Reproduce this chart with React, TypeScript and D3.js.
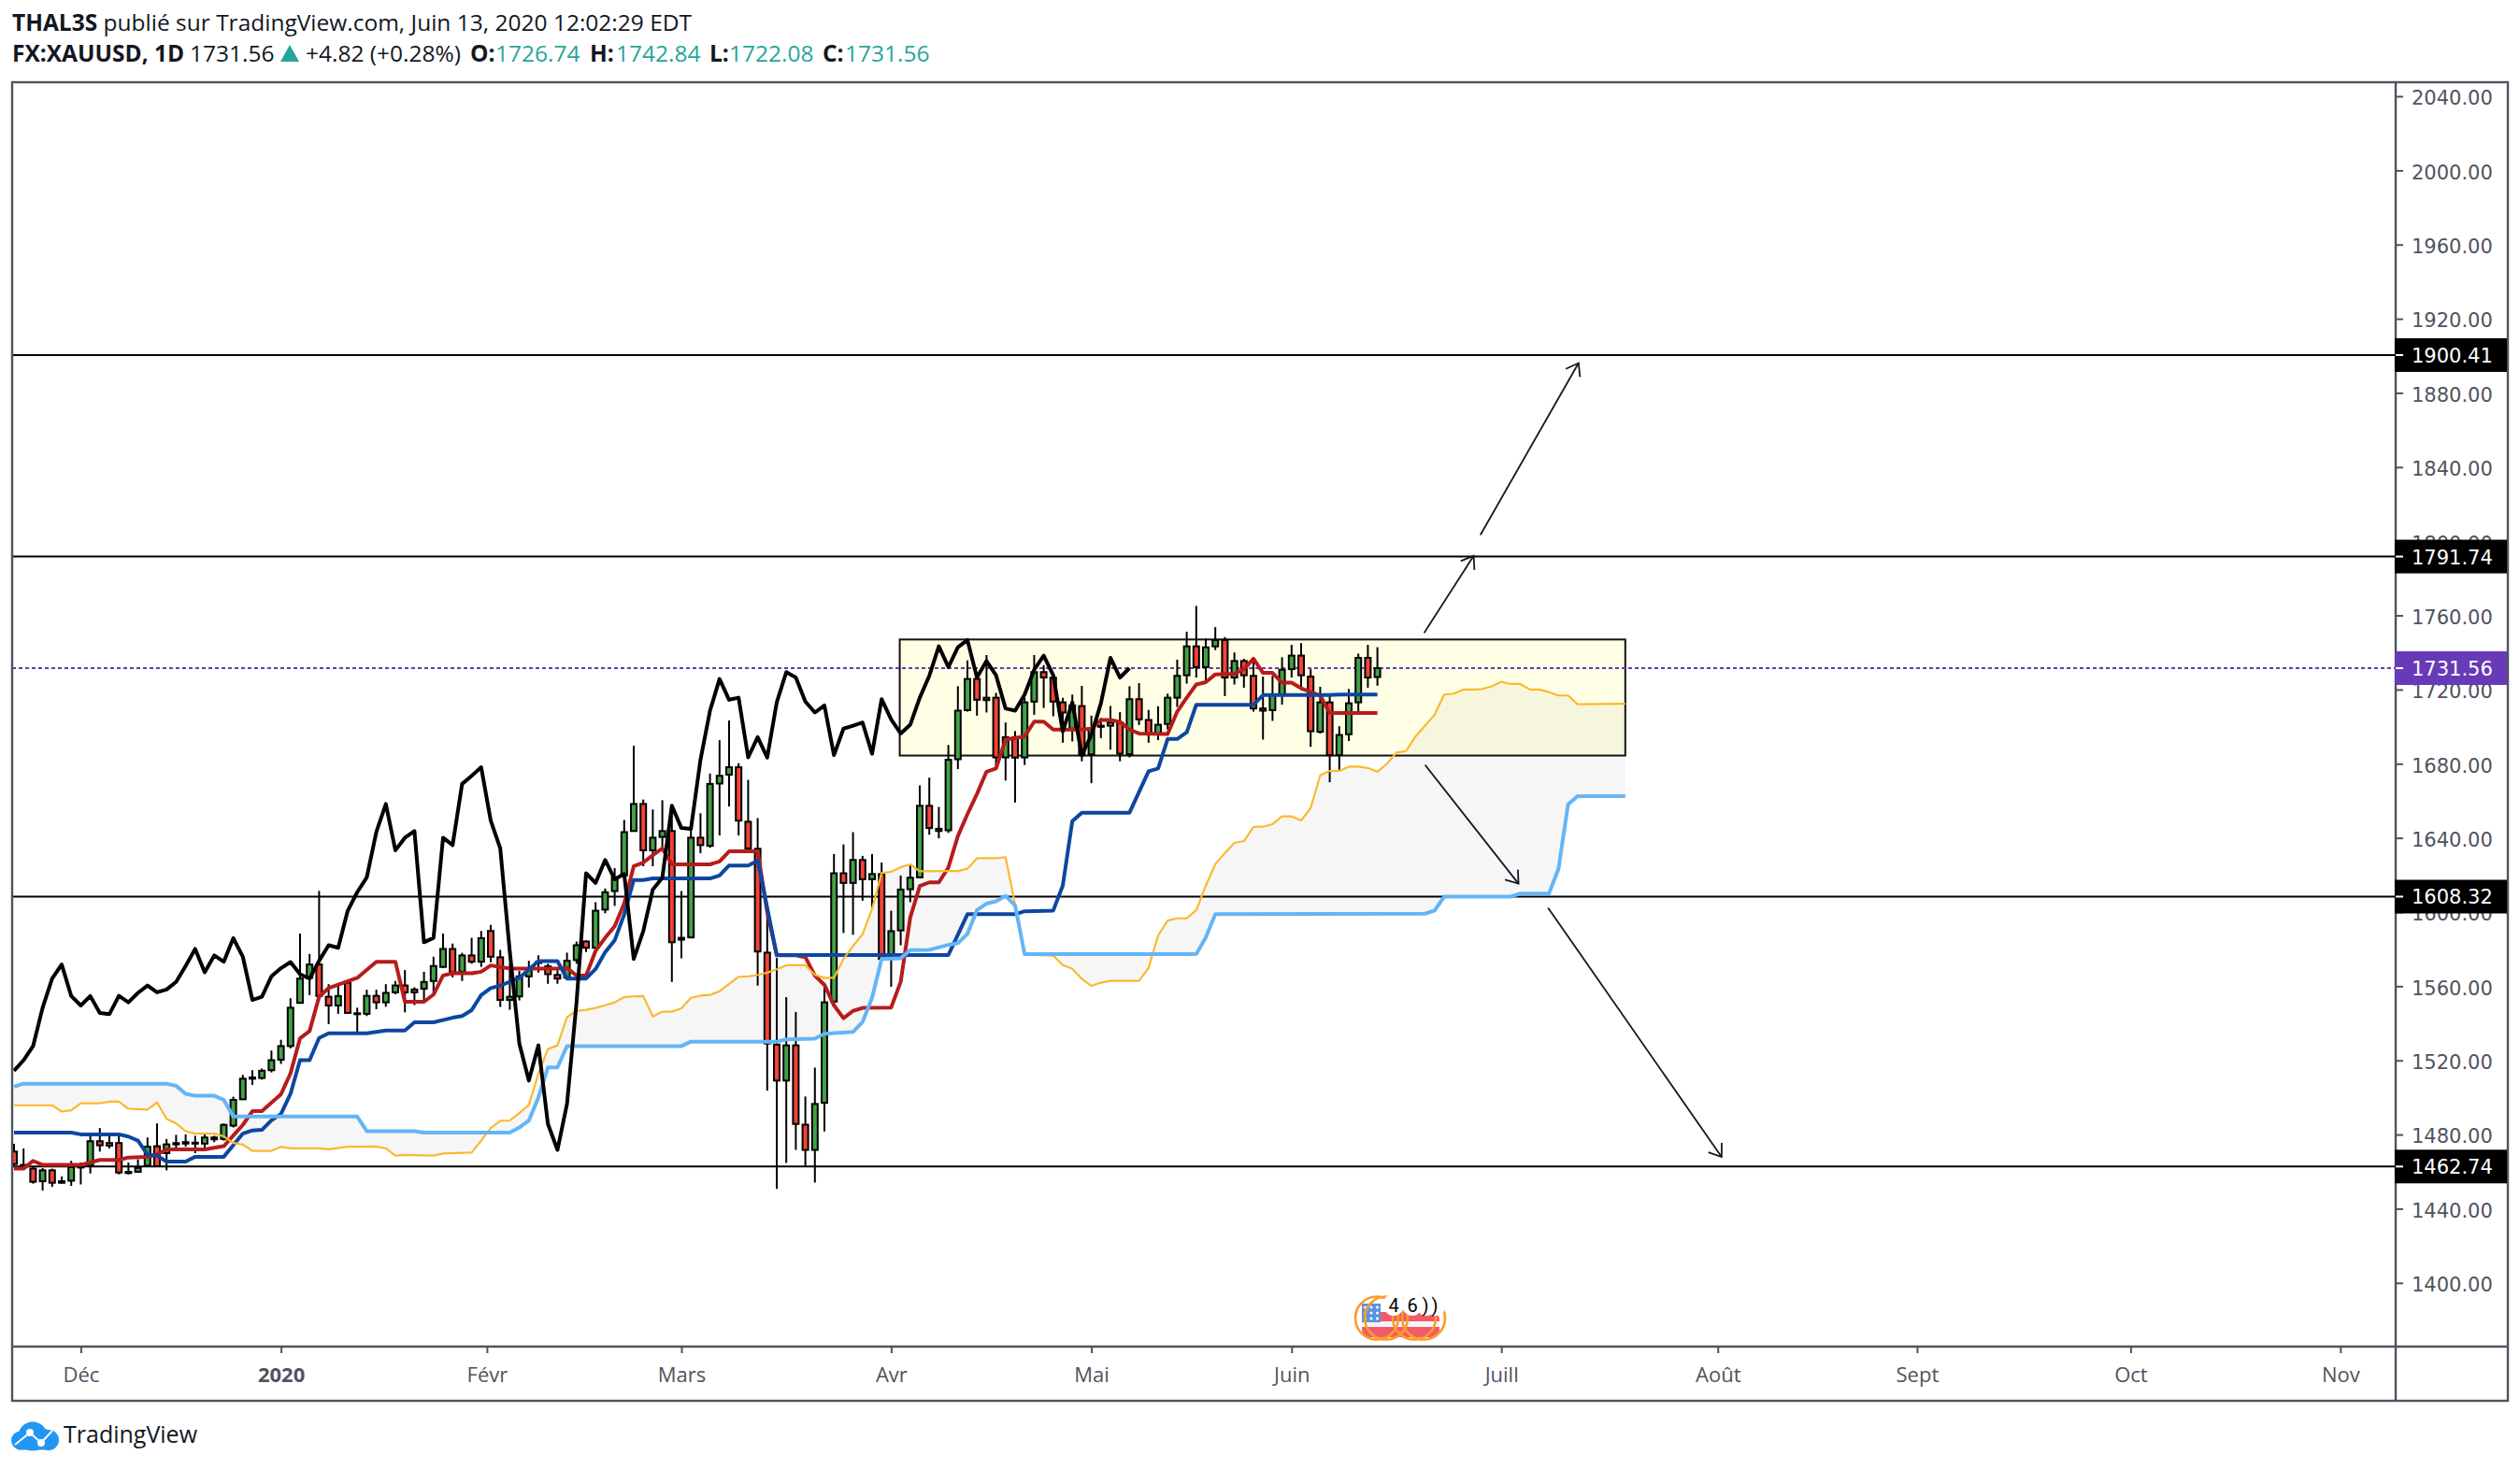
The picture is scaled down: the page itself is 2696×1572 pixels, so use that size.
import * as d3 from "d3"
import { useEffect, useRef } from "react"

const WIDTH = 2696
const HEIGHT = 1572

// daily XAUUSD candles, one entry per bar
const opens = [
  1470.8, 1462.9, 1461.6, 1454.8, 1460.7, 1454.0, 1455.1, 1462.2, 1463.2, 1476.4,
  1475.4, 1475.4, 1459.9, 1459.9, 1463.2, 1473.7, 1470.0, 1474.7, 1475.1, 1475.1,
  1475.1, 1477.4, 1477.6, 1484.8, 1499.0, 1510.1, 1510.5, 1514.7, 1520.3, 1527.7,
  1551.0, 1564.5, 1571.7, 1554.3, 1549.6, 1561.9, 1545.4, 1545.1, 1554.8, 1551.3,
  1556.7, 1560.4, 1556.7, 1558.6, 1562.8, 1570.4, 1580.1, 1567.8, 1576.6, 1573.2,
  1589.8, 1575.6, 1552.6, 1554.5, 1565.3, 1572.5, 1570.7, 1566.1, 1564.7, 1574.1,
  1584.1, 1580.7, 1601.3, 1611.3, 1619.7, 1643.7, 1658.3, 1633.3, 1640.5, 1643.7,
  1585.1, 1586.3, 1640.1, 1635.7, 1669.3, 1674.1, 1678.1, 1648.7, 1634.1, 1578.1,
  1528.5, 1509.1, 1528.1, 1485.3, 1471.7, 1497.1, 1551.7, 1620.9, 1615.7, 1628.1,
  1617.7, 1620.5, 1574.7, 1590.1, 1612.3, 1618.7, 1657.3, 1643.7, 1644.1, 1682.4,
  1708.9, 1725.7, 1714.3, 1715.6, 1683.4, 1694.3, 1683.4, 1713.5, 1729.4, 1726.4,
  1713.1, 1698.9, 1711.1, 1685.0, 1699.9, 1700.5, 1702.2, 1685.1, 1714.8, 1703.6,
  1696.3, 1701.4, 1715.6, 1727.7, 1743.3, 1732.1, 1743.3, 1746.7, 1726.5, 1735.4,
  1727.4, 1709.8, 1708.9, 1717.3, 1731.0, 1738.3, 1727.0, 1697.2, 1713.1, 1684.6,
  1695.9, 1713.1, 1737.1, 1726.74,
]
const highs = [
  1475.0, 1472.5, 1462.4, 1461.9, 1461.6, 1457.4, 1465.8, 1464.9, 1481.0, 1483.5,
  1479.3, 1479.3, 1464.9, 1466.6, 1478.4, 1486.0, 1477.6, 1479.8, 1480.1, 1479.3,
  1481.0, 1479.3, 1486.0, 1500.4, 1512.2, 1514.7, 1515.6, 1525.3, 1531.1, 1553.5,
  1588.4, 1577.4, 1611.4, 1561.1, 1560.3, 1562.8, 1548.4, 1558.1, 1558.1, 1561.1,
  1562.8, 1568.7, 1559.4, 1567.8, 1575.9, 1588.4, 1583.0, 1578.0, 1586.1, 1589.8,
  1593.1, 1579.6, 1572.0, 1568.2, 1573.7, 1576.7, 1572.1, 1568.7, 1578.1, 1584.1,
  1584.7, 1605.3, 1612.7, 1623.7, 1649.7, 1689.7, 1660.7, 1655.3, 1660.3, 1657.7,
  1611.3, 1648.7, 1653.3, 1674.7, 1692.7, 1703.3, 1680.3, 1671.3, 1650.7, 1598.1,
  1575.3, 1554.1, 1546.1, 1500.5, 1516.1, 1560.7, 1631.3, 1636.5, 1643.1, 1630.3,
  1631.3, 1626.7, 1600.7, 1619.7, 1625.1, 1668.3, 1672.5, 1656.7, 1690.1, 1721.8,
  1735.7, 1729.0, 1738.6, 1718.2, 1702.2, 1697.7, 1715.6, 1738.6, 1733.2, 1729.0,
  1715.6, 1717.3, 1722.0, 1705.9, 1704.7, 1711.1, 1707.8, 1721.8, 1723.5, 1709.0,
  1711.0, 1717.8, 1736.1, 1751.2, 1765.1, 1747.5, 1753.7, 1748.3, 1740.0, 1736.6,
  1736.6, 1727.0, 1727.4, 1737.4, 1744.1, 1745.0, 1731.0, 1721.5, 1716.5, 1700.2,
  1720.3, 1739.4, 1744.1, 1742.84,
]
const lows = [
  1463.2, 1462.9, 1453.5, 1449.8, 1451.8, 1453.5, 1452.3, 1453.1, 1459.0, 1470.8,
  1472.5, 1458.5, 1458.5, 1459.5, 1462.4, 1462.9, 1460.7, 1472.5, 1473.4, 1470.0,
  1473.0, 1475.9, 1476.7, 1483.8, 1498.7, 1506.8, 1509.6, 1513.5, 1518.1, 1526.5,
  1551.0, 1555.2, 1554.3, 1539.5, 1545.1, 1545.4, 1535.4, 1543.9, 1547.6, 1548.9,
  1555.7, 1545.9, 1549.8, 1551.8, 1556.0, 1569.9, 1564.8, 1562.8, 1572.1, 1570.4,
  1572.9, 1548.8, 1547.3, 1552.3, 1559.3, 1567.3, 1561.3, 1561.3, 1564.1, 1572.1,
  1578.5, 1580.7, 1599.3, 1603.3, 1618.7, 1643.7, 1624.7, 1624.7, 1634.7, 1562.3,
  1575.1, 1586.3, 1631.7, 1634.7, 1641.3, 1656.9, 1641.3, 1633.7, 1560.3, 1503.7,
  1450.7, 1464.7, 1471.7, 1462.7, 1454.1, 1481.7, 1550.7, 1588.7, 1587.7, 1606.1,
  1602.1, 1574.7, 1559.7, 1582.1, 1605.3, 1618.7, 1641.7, 1639.7, 1642.7, 1677.1,
  1708.1, 1705.9, 1707.6, 1677.9, 1670.9, 1659.1, 1679.3, 1706.4, 1710.1, 1705.6,
  1691.3, 1692.0, 1681.3, 1669.5, 1693.8, 1687.6, 1681.3, 1683.4, 1700.9, 1691.3,
  1692.7, 1698.5, 1710.6, 1723.2, 1726.5, 1724.9, 1741.3, 1716.5, 1722.7, 1721.0,
  1708.1, 1693.0, 1703.1, 1711.9, 1726.5, 1721.0, 1689.1, 1696.3, 1670.0, 1676.7,
  1692.2, 1708.1, 1721.0, 1722.08,
]
const closes = [
  1464.1, 1463.6, 1454.5, 1460.7, 1454.0, 1454.8, 1462.4, 1462.7, 1476.4, 1474.2,
  1474.0, 1459.5, 1459.2, 1462.0, 1473.4, 1462.9, 1474.7, 1475.4, 1475.9, 1475.6,
  1478.4, 1478.4, 1485.2, 1498.7, 1510.1, 1510.8, 1514.4, 1520.1, 1527.7, 1548.4,
  1564.1, 1571.7, 1554.7, 1549.6, 1554.7, 1545.6, 1544.9, 1554.8, 1551.3, 1556.4,
  1560.4, 1556.7, 1558.2, 1562.3, 1570.9, 1580.1, 1567.5, 1576.6, 1573.2, 1585.9,
  1575.9, 1552.6, 1554.3, 1565.3, 1569.7, 1573.0, 1566.5, 1564.1, 1573.7, 1582.1,
  1580.7, 1600.7, 1610.7, 1618.7, 1643.1, 1658.3, 1633.3, 1640.1, 1643.7, 1583.7,
  1586.1, 1640.1, 1636.1, 1669.1, 1673.5, 1678.1, 1649.3, 1634.3, 1578.7, 1529.1,
  1509.1, 1528.1, 1485.7, 1471.7, 1496.5, 1551.3, 1620.9, 1615.7, 1628.1, 1617.7,
  1620.5, 1574.7, 1589.7, 1612.1, 1618.5, 1657.3, 1645.3, 1644.9, 1682.1, 1708.6,
  1725.7, 1714.5, 1715.6, 1683.4, 1694.3, 1683.3, 1713.1, 1729.4, 1726.5, 1713.5,
  1707.6, 1711.4, 1684.6, 1698.9, 1700.5, 1702.2, 1685.4, 1714.8, 1703.9, 1696.3,
  1701.0, 1715.6, 1727.4, 1743.3, 1732.1, 1742.8, 1746.7, 1726.5, 1735.4, 1727.7,
  1709.8, 1708.6, 1717.3, 1730.7, 1738.3, 1727.7, 1697.5, 1713.1, 1684.6, 1695.5,
  1712.6, 1737.1, 1726.5, 1731.56,
]

// Ichimoku lines as [bar, price] vertices
const tenkan: [number, number][] = [
  [0, 1461.6], [1, 1461.6], [2, 1465.8], [3, 1463.6], [7, 1463.6], [9, 1466.3], [11, 1466.3], [12, 1467.6],
  [14, 1468], [15, 1469.2], [16, 1472], [20, 1472], [22, 1473.7], [24, 1485.2], [25, 1492.6], [26, 1492.6],
  [28, 1501.7], [29, 1513], [30, 1531.9], [31, 1535.8], [32, 1554.3], [33, 1559], [36, 1564.5], [38, 1573.2],
  [40, 1573.2], [41, 1551.6], [43, 1551.6], [44, 1555.5], [45, 1565.8], [46, 1567], [48, 1567], [49, 1567.8],
  [50, 1571.2], [52, 1569.5], [57, 1569.5], [58, 1569.9], [59, 1565.7], [60, 1565.7], [61, 1579.1], [62, 1586.1],
  [63, 1592.3], [64, 1604.7], [65, 1624.7], [66, 1626.7], [67, 1630.7], [68, 1634.3], [69, 1625.7], [73, 1625.7],
  [74, 1627.3], [75, 1632.7], [78, 1632.7], [79, 1600], [80, 1576.7], [82, 1576.7], [83, 1575.7], [84, 1565.7],
  [85, 1560.7], [86, 1549.7], [87, 1542.7], [88, 1546.7], [89, 1548.3], [92, 1548.5], [93, 1562.4], [94, 1597],
  [95, 1614], [96, 1616], [97, 1616], [98, 1624], [99, 1641], [100, 1652.8], [101, 1663.7], [102, 1675.7],
  [103, 1677.4], [104, 1693], [106, 1694.7], [107, 1702.7], [108, 1702.7], [109, 1698.4], [112, 1698.4], [113, 1698.9],
  [114, 1703.6], [115, 1703.6], [116, 1702.6], [117, 1698.4], [118, 1696.3], [121, 1696], [122, 1708.1], [123, 1715.6],
  [124, 1722.7], [125, 1724], [126, 1728.2], [128, 1728.5], [129, 1731], [130, 1736.6], [131, 1729], [132, 1729],
  [133, 1723.7], [134, 1723.7], [135, 1720.7], [137, 1716.8], [138, 1707.3], [143, 1707.3],
]
const kijun: [number, number][] = [
  [0, 1481], [6, 1481], [7, 1480.1], [11, 1480.1], [12, 1478.9], [13, 1476.7], [14, 1469.2], [15, 1468.6],
  [16, 1465.4], [18, 1465.4], [19, 1468], [22, 1468], [24, 1480.5], [25, 1482.2], [26, 1482.5], [27, 1487.7],
  [28, 1491.1], [29, 1502], [30, 1520.1], [31, 1520.1], [32, 1532.1], [33, 1534.6], [37, 1534.6], [39, 1536.1],
  [41, 1536.1], [42, 1540.5], [44, 1540.5], [46, 1543], [47, 1543.9], [48, 1547.1], [49, 1555.2], [50, 1559],
  [51, 1560.3], [53, 1564.5], [55, 1573.5], [57, 1573.5], [58, 1564.1], [60, 1564.1], [61, 1569.3], [62, 1578.3],
  [63, 1584.7], [64, 1598.7], [65, 1617.3], [66, 1617.3], [67, 1618.1], [73, 1618.1], [74, 1619.7], [75, 1625.1],
  [77, 1625.1], [78, 1627.7], [80, 1576.8], [98, 1576.8], [100, 1598.8], [105, 1598.8], [106, 1600.4], [109, 1600.8],
  [110, 1614.2], [111, 1649], [112, 1653.6], [117, 1653.6], [119, 1675.9], [120, 1677.4], [121, 1693.3], [122, 1693.3],
  [123, 1696.9], [124, 1711.8], [130, 1711.8], [131, 1717], [138, 1717], [139, 1717.3], [143, 1717.3],
]
// one value per bar from the first bar on
const chikou = [
  1514.4, 1520.1, 1527.7, 1548.4, 1564.1, 1571.7, 1554.7, 1549.6, 1554.7, 1545.6,
  1544.9, 1554.8, 1551.3, 1556.4, 1560.4, 1556.7, 1558.2, 1562.3, 1570.9, 1580.1,
  1567.5, 1576.6, 1573.2, 1585.9, 1575.9, 1552.6, 1554.3, 1565.3, 1569.7, 1573.0,
  1566.5, 1564.1, 1573.7, 1582.1, 1580.7, 1600.7, 1610.7, 1618.7, 1643.1, 1658.3,
  1633.3, 1640.1, 1643.7, 1583.7, 1586.1, 1640.1, 1636.1, 1669.1, 1673.5, 1678.1,
  1649.3, 1634.3, 1578.7, 1529.1, 1509.1, 1528.1, 1485.7, 1471.7, 1496.5, 1551.3,
  1620.9, 1615.7, 1628.1, 1617.7, 1620.5, 1574.7, 1589.7, 1612.1, 1618.5, 1657.3,
  1645.3, 1644.9, 1682.1, 1708.6, 1725.7, 1714.5, 1715.6, 1683.4, 1694.3, 1683.3,
  1713.1, 1729.4, 1726.5, 1713.5, 1707.6, 1711.4, 1684.6, 1698.9, 1700.5, 1702.2,
  1685.4, 1714.8, 1703.9, 1696.3, 1701.0, 1715.6, 1727.4, 1743.3, 1732.1, 1742.8,
  1746.7, 1726.5, 1735.4, 1727.7, 1709.8, 1708.6, 1717.3, 1730.7, 1738.3, 1727.7,
  1697.5, 1713.1, 1684.6, 1695.5, 1712.6, 1737.1, 1726.5, 1731.56,
]
const senkouA: [number, number][] = [
  [0, 1495.8], [4, 1495.8], [5, 1492.4], [6, 1493.1], [7, 1496.9], [9, 1496.9], [10, 1497.7], [11, 1497.7],
  [12, 1493.9], [14, 1493.5], [15, 1497.3], [16, 1488.5], [17, 1486], [18, 1481.8], [19, 1480.5], [21, 1480.5],
  [22, 1479], [23, 1475.4], [24, 1474.6], [25, 1471.2], [27, 1471.2], [28, 1473.4], [29, 1472.5], [32, 1472.5],
  [33, 1472], [35, 1473.4], [38, 1473.5], [39, 1472.5], [40, 1468.6], [41, 1469], [44, 1468.6], [45, 1469.8],
  [48, 1470.3], [49, 1476.7], [50, 1483.5], [51, 1487.4], [52, 1487.6], [53, 1491.6], [54, 1496], [55, 1512.7],
  [56, 1526.1], [57, 1528.1], [58, 1543.3], [59, 1546.7], [60, 1547.3], [61, 1548.3], [62, 1549.7], [63, 1551.3],
  [64, 1554.1], [65, 1554.5], [66, 1554.7], [67, 1543.7], [68, 1546.3], [69, 1546.3], [70, 1548.1], [71, 1553.7],
  [72, 1554.9], [73, 1555.3], [74, 1557.3], [75, 1561.1], [76, 1565.1], [77, 1565.3], [78, 1566.1], [79, 1567.3],
  [80, 1569.1], [81, 1571.3], [83, 1571.3], [84, 1566.1], [85, 1564.5], [86, 1564.5], [87, 1574.7], [88, 1581.7],
  [89, 1588.1], [90, 1601.7], [91, 1621], [92, 1621.7], [93, 1624.2], [94, 1625.8], [95, 1622], [99, 1622.1],
  [100, 1623.4], [101, 1629], [103, 1629], [104, 1629.6], [105, 1604.1], [106, 1577], [109, 1576.5], [110, 1571.4],
  [111, 1569.4], [112, 1563.9], [113, 1560.2], [114, 1561.9], [115, 1562.9], [118, 1562.9], [119, 1569.8], [120, 1587.4],
  [121, 1595.4], [122, 1596.6], [123, 1596.6], [124, 1601.1], [125, 1614.2], [126, 1625.9], [127, 1631.8], [128, 1637.3],
  [129, 1638.2], [130, 1645.9], [131, 1646], [132, 1647.4], [133, 1651.6], [134, 1651.6], [135, 1649.4], [136, 1656.1],
  [137, 1673.7], [138, 1676.1], [139, 1676.1], [140, 1678.4], [141, 1678.4], [142, 1677.7], [143, 1675.7], [144, 1680],
  [145, 1686], [146, 1686.8], [147, 1694.7], [148, 1700.5], [149, 1706.4], [150, 1717.3], [151, 1717.8], [152, 1720],
  [153, 1720], [154, 1720.3], [155, 1721.7], [156, 1724.2], [157, 1723], [158, 1723], [159, 1720], [160, 1720],
  [161, 1718.6], [162, 1716.8], [163, 1716.8], [164, 1712.1], [169, 1712.3],
]
const senkouB: [number, number][] = [
  [0, 1505.8], [1, 1507.4], [16, 1507.4], [17, 1506.3], [18, 1502], [19, 1500.9], [21, 1500.9], [22, 1498.7],
  [23, 1489.7], [36, 1489.7], [37, 1481.8], [42, 1481.8], [43, 1481], [52, 1481], [53, 1483.8], [54, 1487.5],
  [55, 1500], [56, 1516.2], [57, 1516.2], [58, 1527.7], [70, 1527.7], [71, 1530.1], [80, 1530.1], [81, 1531.3],
  [84, 1531.7], [85, 1534.3], [88, 1535.3], [89, 1540.7], [90, 1553.7], [91, 1574.7], [93, 1575], [94, 1579.5],
  [96, 1579.6], [98, 1582.3], [99, 1583.2], [100, 1588.2], [101, 1601.1], [102, 1604.5], [103, 1605.8], [104, 1608.7],
  [105, 1603.6], [106, 1577.3], [124, 1577.3], [125, 1586.2], [126, 1598.9], [148, 1599.1], [149, 1600.8], [150, 1608.3],
  [157, 1608.3], [158, 1610], [161, 1610], [162, 1623.4], [163, 1658.1], [164, 1662.5], [169, 1662.5],
]

// drawings on the chart
const levels = [1900.41, 1791.74, 1608.32, 1462.74]
const lastPrice = 1731.56
const boxBars = [92.9, 169]
const boxPrices = [1747, 1684.4]
const arrows: [number, number, number, number][] = [
  [153.8, 1803.4, 164.1, 1896.1],
  [147.9, 1750.5, 153.1, 1792.1],
  [148, 1679.4, 157.8, 1615.3],
  [160.9, 1602.3, 179.1, 1467.9],
]

// axes
const priceTicks = d3.range(1400, 2041, 40)
const timeTickBars = [7, 28, 49.6, 70, 92, 113, 134, 156, 178.7, 199.6, 222, 244]
const timeTickLabels = ["Déc", "2020", "Févr", "Mars", "Avr", "Mai", "Juin", "Juill", "Août", "Sept", "Oct", "Nov"]

const PLOT = { left: 13, right: 2563, top: 88, bottom: 1441, axisRight: 2683, axisBottom: 1499 }
const AXIS_COLOR = "#50535e"
const UP = "#43a047"
const DOWN = "#f44336"
const TEAL = "#26a69a"
const UI_FONT = "'Open Sans', sans-serif"
const SCALE_FONT = "'DejaVu Sans', sans-serif"

export default function App() {
  const svgRef = useRef<SVGSVGElement>(null)

  useEffect(() => {
    if (!svgRef.current) return
    const svg = d3.select(svgRef.current)
    svg.selectAll("*").remove()

    const x = d3.scaleLinear().domain([0, 244]).range([15, 2503.8])
    const y = d3.scaleLinear().domain([1400, 2040]).range([1372.8, 103])

    svg
      .append("defs")
      .append("clipPath")
      .attr("id", "plot-clip")
      .append("rect")
      .attr("x", PLOT.left)
      .attr("y", PLOT.top)
      .attr("width", PLOT.right - PLOT.left)
      .attr("height", PLOT.bottom - PLOT.top)

    svg.append("rect").attr("width", WIDTH).attr("height", HEIGHT).attr("fill", "#fff")

    const plot = svg.append("g").attr("clip-path", "url(#plot-clip)")

    // range box
    plot
      .append("rect")
      .attr("x", x(boxBars[0]))
      .attr("y", y(boxPrices[0]))
      .attr("width", x(boxBars[1]) - x(boxBars[0]))
      .attr("height", y(boxPrices[1]) - y(boxPrices[0]))
      .attr("fill", "#ffffe6")

    // cloud
    const vertex = d3
      .line<[number, number]>()
      .x((d) => x(d[0]))
      .y((d) => y(d[1]))
    plot
      .append("path")
      .attr("d", vertex([...senkouA, ...[...senkouB].reverse()]) + "Z")
      .attr("fill", "rgba(0,0,0,0.035)")

    plot
      .append("rect")
      .attr("x", x(boxBars[0]))
      .attr("y", y(boxPrices[0]))
      .attr("width", x(boxBars[1]) - x(boxBars[0]))
      .attr("height", y(boxPrices[1]) - y(boxPrices[0]))
      .attr("fill", "none")
      .attr("stroke", "#111")
      .attr("stroke-width", 2)

    // horizontal levels
    plot
      .selectAll(".level")
      .data(levels)
      .enter()
      .append("line")
      .attr("x1", PLOT.left)
      .attr("x2", PLOT.right)
      .attr("y1", (d) => y(d))
      .attr("y2", (d) => y(d))
      .attr("stroke", "#000")
      .attr("stroke-width", 2)

    plot
      .append("line")
      .attr("x1", PLOT.left)
      .attr("x2", PLOT.right)
      .attr("y1", y(lastPrice))
      .attr("y2", y(lastPrice))
      .attr("stroke", "#673ab7")
      .attr("stroke-width", 2)
      .attr("stroke-dasharray", "4 3")

    // candles
    const bars = d3.range(closes.length)
    const candles = plot.selectAll(".candle").data(bars).enter().append("g")
    candles
      .append("line")
      .attr("x1", (i) => x(i))
      .attr("x2", (i) => x(i))
      .attr("y1", (i) => y(highs[i]))
      .attr("y2", (i) => y(lows[i]))
      .attr("stroke", "#000")
      .attr("stroke-width", 2)
    candles
      .append("rect")
      .attr("x", (i) => x(i) - 3)
      .attr("width", 6)
      .attr("y", (i) => y(Math.max(opens[i], closes[i])))
      .attr("height", (i) => Math.max(1, Math.abs(y(opens[i]) - y(closes[i]))))
      .attr("fill", (i) => (closes[i] >= opens[i] ? UP : DOWN))
      .attr("stroke", "#000")
      .attr("stroke-width", 2)

    const drawLine = (pts: [number, number][], color: string, w: number) =>
      plot
        .append("path")
        .attr("d", vertex(pts))
        .attr("fill", "none")
        .attr("stroke", color)
        .attr("stroke-width", w)
        .attr("stroke-linejoin", "round")

    drawLine(tenkan, "#b71c1c", 4)
    drawLine(kijun, "#0d47a1", 4)
    drawLine(senkouA, "#fbb92f", 2.2)
    drawLine(senkouB, "#64b5f6", 4)
    drawLine(chikou.map((v, i) => [i, v] as [number, number]), "#000", 4)

    // arrows
    const arrowG = plot.append("g").attr("stroke", "#131722").attr("stroke-width", 1.8).attr("fill", "none")
    arrows.forEach(([b0, p0, b1, p1]) => {
      const xa = x(b0)
      const ya = y(p0)
      const xb = x(b1)
      const yb = y(p1)
      const angle = Math.atan2(yb - ya, xb - xa)
      const arm = (a: number) => [xb - 15 * Math.cos(angle + a), yb - 15 * Math.sin(angle + a)]
      const [lx, ly] = arm(0.62)
      const [rx, ry] = arm(-0.62)
      arrowG.append("path").attr("d", `M${xa},${ya}L${xb},${yb}`)
      arrowG.append("path").attr("d", `M${lx},${ly}L${xb},${yb}L${rx},${ry}`)
    })

    // events badge near the time axis
    const badge = svg.append("g")
    badge.append("rect").attr("x", 1457).attr("y", 1404).attr("width", 83).attr("height", 27).attr("rx", 8).attr("fill", "#f4596a")
    badge.append("rect").attr("x", 1457).attr("y", 1414).attr("width", 83).attr("height", 6).attr("fill", "#f4f4f6")
    badge.append("rect").attr("x", 1457).attr("y", 1395).attr("width", 20).attr("height", 20).attr("fill", "#5a93e0")
    d3.range(9).forEach((k) =>
      badge
        .append("circle")
        .attr("cx", 1460.5 + (k % 3) * 6.5)
        .attr("cy", 1399 + Math.floor(k / 3) * 6)
        .attr("r", 1.5)
        .attr("fill", "#fff"),
    )
    ;[1473, 1483, 1513, 1523].forEach((cx) =>
      badge
        .append("circle")
        .attr("cx", cx)
        .attr("cy", 1410.5)
        .attr("r", 23)
        .attr("fill", "none")
        .attr("stroke", "#f99d2a")
        .attr("stroke-width", 2.6),
    )
    ;[1491, 1511, 1526, 1536].forEach((cx) =>
      badge.append("ellipse").attr("cx", cx).attr("cy", 1396).attr("rx", 11).attr("ry", 12).attr("fill", "#fff"),
    )
    ;[["4", 1491], ["6", 1511], [")", 1525], [")", 1535]].forEach(([t, cx]) =>
      badge
        .append("text")
        .attr("x", cx as number)
        .attr("y", 1404)
        .attr("text-anchor", "middle")
        .attr("font-family", "Roboto, sans-serif")
        .attr("font-size", 20)
        .attr("fill", "#000")
        .text(t as string),
    )

    // axes frame
    const frame = svg.append("g").attr("stroke", AXIS_COLOR).attr("stroke-width", 2.4).attr("fill", "none")
    frame
      .append("rect")
      .attr("x", PLOT.left)
      .attr("y", PLOT.top)
      .attr("width", PLOT.axisRight - PLOT.left)
      .attr("height", PLOT.axisBottom - PLOT.top)
    frame.append("line").attr("x1", PLOT.left).attr("x2", PLOT.axisRight).attr("y1", PLOT.bottom).attr("y2", PLOT.bottom)
    frame.append("line").attr("x1", PLOT.right).attr("x2", PLOT.right).attr("y1", PLOT.top).attr("y2", PLOT.axisBottom)

    const yAxis = svg
      .append("g")
      .attr("transform", `translate(${PLOT.right},0)`)
      .call(
        d3
          .axisRight(y)
          .tickValues(priceTicks)
          .tickSize(8)
          .tickPadding(9)
          .tickFormat((d) => d3.format(".2f")(d as number)),
      )
    yAxis.select(".domain").remove()
    yAxis.selectAll("line").attr("stroke", AXIS_COLOR).attr("stroke-width", 2)
    yAxis
      .selectAll("text")
      .attr("fill", AXIS_COLOR)
      .attr("font-family", SCALE_FONT)
      .attr("font-size", 21)
      .attr("dy", "0.42em")

    const xAxis = svg
      .append("g")
      .attr("transform", `translate(0,${PLOT.bottom})`)
      .call(
        d3
          .axisBottom(x)
          .tickValues(timeTickBars)
          .tickSize(7)
          .tickPadding(15)
          .tickFormat((_, i) => timeTickLabels[i]),
      )
    xAxis.select(".domain").remove()
    xAxis.selectAll("line").attr("stroke", AXIS_COLOR).attr("stroke-width", 2)
    xAxis
      .selectAll("text")
      .attr("fill", AXIS_COLOR)
      .attr("font-family", UI_FONT)
      .attr("font-size", 22)
      .attr("font-weight", (_, i) => (timeTickLabels[i] === "2020" ? 700 : 400))

    // level tags on the price scale
    const tags = [
      ...levels.map((v) => ({ v, bg: "#000" })),
      { v: lastPrice, bg: "#673ab7" },
    ]
    const tag = svg.selectAll(".tag").data(tags).enter().append("g")
    tag
      .append("rect")
      .attr("x", PLOT.right - 1)
      .attr("y", (d) => y(d.v) - 18)
      .attr("width", PLOT.axisRight - PLOT.right)
      .attr("height", 36)
      .attr("fill", (d) => d.bg)
    tag
      .append("line")
      .attr("x1", PLOT.right)
      .attr("x2", PLOT.right + 8)
      .attr("y1", (d) => y(d.v))
      .attr("y2", (d) => y(d.v))
      .attr("stroke", "#fff")
      .attr("stroke-width", 2)
    tag
      .append("text")
      .attr("x", PLOT.right + 17)
      .attr("y", (d) => y(d.v))
      .attr("dy", "0.38em")
      .attr("fill", "#fff")
      .attr("font-family", SCALE_FONT)
      .attr("font-size", 21)
      .text((d) => d.v.toFixed(2))

    // header
    const head = svg.append("g").attr("font-family", UI_FONT).attr("font-size", 24.5).attr("fill", "#131722")
    const line1 = head.append("text").attr("x", 13).attr("y", 33)
    line1.append("tspan").attr("font-weight", 700).text("THAL3S")
    line1.append("tspan").text(" publié sur TradingView.com, Juin 13, 2020 12:02:29 EDT")

    head.append("text").attr("x", 13).attr("y", 66).attr("font-weight", 700).text("FX:XAUUSD, 1D")
    head.append("text").attr("x", 203).attr("y", 66).text("1731.56")
    head
      .append("path")
      .attr("d", d3.line()([[300, 66], [310, 48], [320, 66]]) + "Z")
      .attr("fill", TEAL)
    head.append("text").attr("x", 327).attr("y", 66).text("+4.82 (+0.28%)")
    const ohlc: [string, string, number, number][] = [
      ["O:", "1726.74", 503, 530],
      ["H:", "1742.84", 631, 659],
      ["L:", "1722.08", 759, 780],
      ["C:", "1731.56", 880, 904],
    ]
    ohlc.forEach(([k, v, kx, vx]) => {
      head.append("text").attr("x", kx).attr("y", 66).attr("font-weight", 700).text(k)
      head.append("text").attr("x", vx).attr("y", 66).attr("fill", TEAL).text(v)
    })

    // logo
    const logo = svg.append("g")
    ;[[35, 1537, 15.5], [22, 1541.5, 10], [52, 1541, 11], [47, 1537, 8]].forEach(([cx, cy, r]) =>
      logo.append("circle").attr("cx", cx).attr("cy", cy).attr("r", r).attr("fill", "#2196f3"),
    )
    logo.append("rect").attr("x", 20).attr("y", 1538).attr("width", 34).attr("height", 13.5).attr("fill", "#2196f3")
    logo
      .append("path")
      .attr("d", "M16,1546L32,1533L44,1544L56,1531")
      .attr("fill", "none")
      .attr("stroke", "#fff")
      .attr("stroke-width", 2)
    ;[[32, 1533], [44, 1544]].forEach(([cx, cy]) =>
      logo.append("circle").attr("cx", cx).attr("cy", cy).attr("r", 4).attr("fill", "#fff"),
    )
    svg
      .append("text")
      .attr("x", 68)
      .attr("y", 1544)
      .attr("font-family", UI_FONT)
      .attr("font-size", 25)
      .attr("fill", "#131722")
      .text("TradingView")
  }, [])

  return (
    <svg
      ref={svgRef}
      width={WIDTH}
      height={HEIGHT}
      style={{ position: "absolute", left: 0, top: 0, display: "block" }}
    />
  )
}
